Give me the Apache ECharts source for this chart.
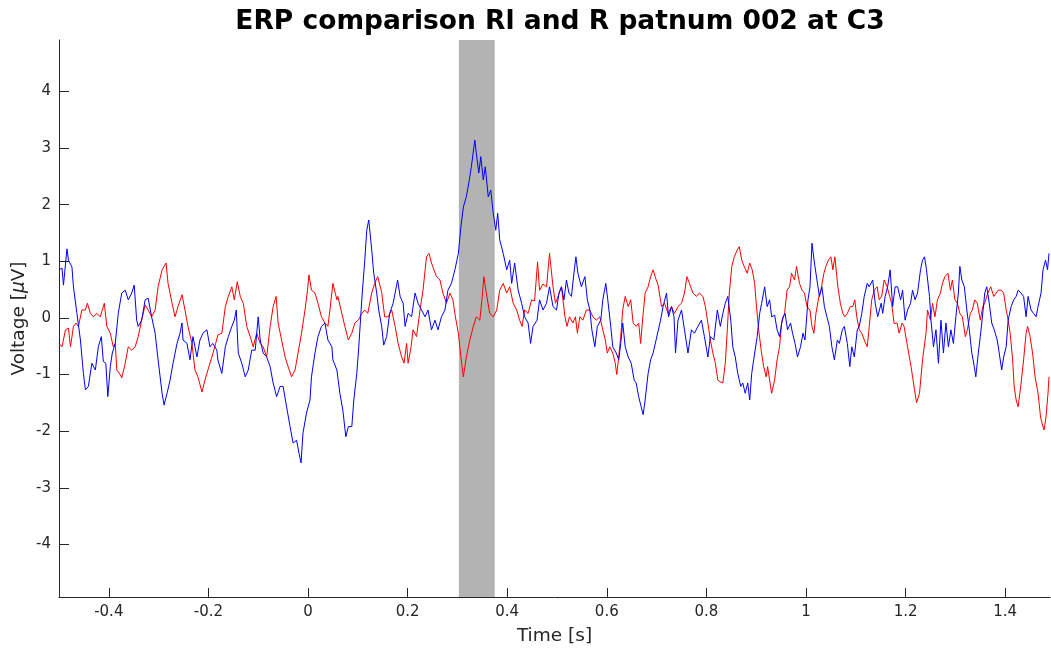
<!DOCTYPE html>
<html>
<head>
    <meta charset="utf-8">
    <title>ERP comparison</title>
    <script src="https://cdn.jsdelivr.net/npm/echarts@6/dist/echarts.min.js"></script>
    <style>
        html, body { margin: 0; padding: 0; background: #fff; }
        #main { width: 1051px; height: 650px; }
    </style>
</head>
<body>
<div id="main"></div>
<script type="text/javascript">

    // blue trace (R)
    var blueTime = [-0.5,-0.494,-0.491,-0.484,-0.481,-0.474,-0.471,-0.464,-0.457,-0.451,-0.447,-0.441,-0.434,-0.427,-0.421,-0.415,-0.411,-0.406,-0.402,-0.397,-0.393,-0.387,-0.381,-0.374,-0.367,-0.361,-0.354,-0.349,-0.344,-0.341,-0.334,-0.327,-0.321,-0.314,-0.307,-0.301,-0.293,-0.289,-0.283,-0.277,-0.271,-0.263,-0.257,-0.253,-0.251,-0.243,-0.237,-0.231,-0.223,-0.217,-0.211,-0.203,-0.197,-0.191,-0.183,-0.181,-0.173,-0.166,-0.160,-0.153,-0.148,-0.144,-0.140,-0.133,-0.126,-0.120,-0.113,-0.106,-0.100,-0.096,-0.090,-0.083,-0.076,-0.070,-0.063,-0.056,-0.050,-0.043,-0.036,-0.030,-0.023,-0.018,-0.014,-0.010,-0.003,0.004,0.007,0.014,0.020,0.027,0.034,0.040,0.048,0.050,0.058,0.064,0.070,0.076,0.081,0.088,0.092,0.098,0.102,0.108,0.114,0.118,0.122,0.128,0.132,0.138,0.142,0.148,0.152,0.158,0.164,0.171,0.180,0.185,0.191,0.195,0.201,0.208,0.215,0.221,0.228,0.235,0.241,0.248,0.255,0.261,0.268,0.275,0.281,0.288,0.295,0.302,0.307,0.312,0.318,0.324,0.328,0.335,0.338,0.343,0.347,0.352,0.356,0.362,0.367,0.372,0.377,0.381,0.385,0.392,0.399,0.405,0.409,0.415,0.422,0.429,0.435,0.442,0.447,0.452,0.460,0.465,0.472,0.479,0.485,0.492,0.499,0.504,0.509,0.514,0.519,0.524,0.529,0.534,0.538,0.542,0.549,0.556,0.561,0.566,0.570,0.576,0.581,0.588,0.592,0.598,0.602,0.608,0.612,0.619,0.624,0.628,0.632,0.637,0.643,0.649,0.655,0.659,0.664,0.669,0.673,0.677,0.683,0.688,0.693,0.699,0.708,0.713,0.720,0.724,0.730,0.735,0.738,0.743,0.750,0.756,0.763,0.770,0.776,0.783,0.790,0.796,0.803,0.808,0.815,0.822,0.828,0.833,0.838,0.843,0.849,0.853,0.858,0.863,0.869,0.873,0.878,0.883,0.887,0.891,0.897,0.902,0.907,0.911,0.917,0.922,0.927,0.931,0.937,0.942,0.947,0.953,0.958,0.963,0.969,0.973,0.978,0.983,0.989,0.994,0.998,1.004,1.008,1.012,1.017,1.022,1.027,1.032,1.037,1.042,1.047,1.052,1.057,1.063,1.067,1.073,1.077,1.083,1.088,1.092,1.097,1.103,1.107,1.112,1.117,1.123,1.127,1.134,1.139,1.144,1.151,1.154,1.159,1.164,1.169,1.174,1.179,1.184,1.190,1.194,1.199,1.204,1.210,1.214,1.219,1.224,1.230,1.234,1.238,1.242,1.248,1.251,1.256,1.261,1.266,1.271,1.276,1.281,1.286,1.291,1.296,1.301,1.306,1.309,1.313,1.318,1.323,1.328,1.333,1.338,1.341,1.346,1.350,1.355,1.359,1.363,1.368,1.373,1.378,1.384,1.388,1.393,1.397,1.402,1.406,1.412,1.417,1.422,1.426,1.432,1.437,1.442,1.446,1.452,1.457,1.462,1.466,1.472,1.476,1.481,1.485,1.488];
    var blueVolt = [0.85,0.88,0.58,1.22,1.02,0.9,0.55,0.08,-0.39,-0.98,-1.27,-1.21,-0.8,-0.92,-0.51,-0.33,-0.77,-0.8,-1.39,-0.86,-0.62,-0.45,0.08,0.44,0.49,0.32,0.44,0.58,-0.04,-0.15,-0.04,0.32,0.35,0.02,-0.27,-0.74,-1.33,-1.54,-1.33,-1.1,-0.8,-0.45,-0.27,-0.09,-0.39,-0.45,-0.74,-0.33,-0.69,-0.39,-0.27,-0.21,-0.51,-0.45,-0.57,-0.74,-0.98,-0.51,-0.33,-0.15,-0.04,0.14,-0.62,-0.8,-1.04,-0.92,-0.57,-0.57,0.02,-0.39,-0.62,-0.69,-0.86,-1.15,-1.39,-1.21,-1.21,-1.57,-1.92,-2.21,-2.16,-2.39,-2.56,-2.03,-1.68,-1.45,-1.04,-0.62,-0.33,-0.15,-0.09,-0.39,-0.51,-0.74,-0.92,-1.33,-1.63,-2.1,-1.92,-1.92,-1.45,-0.98,-0.51,0.32,1.02,1.55,1.73,1.2,0.79,0.44,0.14,-0.15,-0.48,-0.33,0.08,0.26,0.67,0.38,0.26,-0.15,0.08,0.02,0.44,0.26,0.14,0.02,0.14,-0.21,-0.04,-0.21,0.02,0.14,0.49,0.61,0.85,1.14,1.61,1.96,2.14,2.44,2.67,3.14,2.91,2.56,2.85,2.44,2.67,2.14,2.26,1.85,1.55,1.85,1.38,1.14,0.85,1.02,0.61,0.97,0.49,0.26,0.02,-0.09,-0.45,-0.15,-0.04,0.32,0.14,0.26,0.55,0.2,0.14,0.44,0.55,0.32,0.67,0.44,0.38,0.79,1.08,0.79,0.55,0.73,0.32,0.14,-0.21,-0.51,-0.15,-0.04,0.32,0.61,0.32,-0.15,-0.51,-0.62,-0.74,-0.45,-0.09,-0.51,-0.69,-0.8,-1.1,-1.15,-1.39,-1.57,-1.71,-1.45,-0.98,-0.74,-0.62,-0.39,-0.04,0.2,0.44,0.02,0.2,0.02,-0.62,-0.04,0.14,-0.21,-0.62,-0.21,-0.27,-0.15,-0.04,-0.33,-0.69,-0.33,-0.39,0.14,-0.15,0.08,0.26,0.38,-0.04,-0.51,-0.69,-0.98,-1.21,-1.15,-1.33,-1.15,-1.45,-0.98,-0.62,-0.33,0.08,0.26,0.55,0.2,0.32,0.02,0.05,-0.21,-0.33,0.0,0.08,-0.21,-0.09,-0.27,-0.45,-0.69,-0.51,-0.27,-0.39,0.32,0.55,1.32,0.97,0.67,0.38,0.55,0.2,0.02,-0.15,-0.51,-0.74,-0.39,-0.45,-0.21,-0.15,-0.45,-0.86,-0.51,-0.69,-0.21,-0.15,0.08,0.38,0.61,0.55,0.67,0.26,0.02,0.26,0.08,0.38,0.55,0.85,0.2,0.55,0.55,0.32,0.49,-0.04,0.14,0.26,0.49,0.32,0.44,0.85,1.02,1.08,0.85,0.38,-0.04,-0.51,-0.21,-0.8,-0.04,-0.62,-0.09,-0.51,-0.21,-0.45,0.02,0.44,0.91,0.67,0.55,0.14,-0.21,-0.62,-0.86,-1.04,-0.62,-0.33,0.08,0.44,0.55,0.26,-0.09,-0.21,-0.39,-0.62,-0.92,-0.69,-0.51,-0.04,0.2,0.32,0.38,0.49,0.44,0.38,0.02,0.38,0.14,0.08,0.02,0.2,0.44,0.85,1.02,0.85,1.14];

    // red trace (Rl)
    var redTime = [-0.5,-0.494,-0.487,-0.481,-0.477,-0.471,-0.466,-0.461,-0.454,-0.447,-0.443,-0.437,-0.431,-0.424,-0.417,-0.409,-0.404,-0.397,-0.391,-0.387,-0.384,-0.377,-0.374,-0.367,-0.361,-0.354,-0.347,-0.341,-0.334,-0.327,-0.321,-0.314,-0.307,-0.301,-0.293,-0.285,-0.281,-0.273,-0.267,-0.261,-0.253,-0.247,-0.241,-0.233,-0.227,-0.221,-0.213,-0.207,-0.201,-0.193,-0.187,-0.181,-0.173,-0.166,-0.160,-0.153,-0.148,-0.142,-0.136,-0.130,-0.123,-0.116,-0.110,-0.103,-0.096,-0.090,-0.083,-0.076,-0.070,-0.064,-0.060,-0.053,-0.046,-0.040,-0.033,-0.026,-0.020,-0.013,-0.006,-0.001,0.002,0.007,0.014,0.020,0.027,0.034,0.040,0.044,0.050,0.058,0.060,0.068,0.074,0.081,0.088,0.094,0.101,0.108,0.114,0.120,0.128,0.134,0.140,0.148,0.154,0.161,0.168,0.175,0.181,0.188,0.193,0.198,0.201,0.207,0.211,0.218,0.225,0.231,0.238,0.243,0.248,0.253,0.258,0.265,0.271,0.278,0.285,0.291,0.296,0.302,0.307,0.312,0.318,0.325,0.332,0.338,0.345,0.350,0.353,0.358,0.365,0.372,0.379,0.385,0.392,0.399,0.405,0.412,0.419,0.425,0.430,0.435,0.442,0.449,0.455,0.461,0.465,0.472,0.479,0.485,0.492,0.497,0.502,0.509,0.516,0.520,0.525,0.532,0.537,0.541,0.546,0.552,0.559,0.566,0.572,0.579,0.586,0.592,0.597,0.601,0.606,0.612,0.617,0.620,0.624,0.628,0.632,0.637,0.643,0.648,0.653,0.659,0.664,0.668,0.673,0.677,0.683,0.688,0.693,0.697,0.703,0.710,0.716,0.723,0.730,0.736,0.743,0.750,0.756,0.761,0.766,0.773,0.780,0.786,0.793,0.798,0.803,0.808,0.813,0.818,0.823,0.828,0.833,0.838,0.842,0.846,0.851,0.856,0.862,0.866,0.871,0.876,0.882,0.887,0.892,0.897,0.900,0.905,0.910,0.915,0.920,0.923,0.927,0.931,0.937,0.942,0.947,0.951,0.957,0.962,0.967,0.971,0.977,0.981,0.987,0.992,0.997,1.002,1.008,1.012,1.016,1.020,1.026,1.030,1.036,1.040,1.045,1.050,1.054,1.058,1.064,1.069,1.074,1.078,1.083,1.089,1.094,1.098,1.102,1.107,1.112,1.117,1.123,1.127,1.132,1.137,1.143,1.147,1.152,1.157,1.163,1.168,1.172,1.177,1.183,1.187,1.193,1.197,1.204,1.211,1.218,1.222,1.228,1.234,1.241,1.244,1.250,1.254,1.259,1.264,1.270,1.274,1.279,1.285,1.290,1.294,1.299,1.304,1.309,1.314,1.320,1.324,1.330,1.334,1.339,1.344,1.350,1.355,1.359,1.365,1.371,1.377,1.381,1.386,1.392,1.397,1.402,1.406,1.410,1.415,1.418,1.422,1.426,1.432,1.437,1.442,1.445,1.450,1.455,1.460,1.466,1.471,1.474,1.478,1.482,1.486,1.488];
    var redVolt = [-0.45,-0.51,-0.21,-0.18,-0.51,-0.15,-0.09,-0.15,0.14,0.14,0.26,0.08,0.02,0.08,0.02,0.26,-0.15,-0.27,-0.51,-0.45,-0.92,-1.0,-1.06,-0.8,-0.51,-0.57,-0.51,-0.33,-0.04,0.23,0.14,0.02,0.14,0.55,0.85,0.97,0.61,0.26,0.02,0.2,0.41,0.14,-0.15,-0.45,-0.92,-1.04,-1.31,-1.1,-0.92,-0.69,-0.51,-0.3,-0.27,0.2,0.38,0.55,0.32,0.64,0.38,0.26,-0.15,-0.33,-0.51,-0.27,-0.45,-0.51,-0.69,-0.15,0.2,0.38,-0.09,-0.39,-0.69,-0.86,-1.04,-0.92,-0.62,-0.27,0.14,0.49,0.76,0.49,0.44,0.26,0.02,-0.09,-0.15,0.14,0.61,0.32,0.38,0.08,-0.15,-0.39,-0.27,-0.09,-0.04,0.08,0.14,0.08,0.44,0.61,0.73,0.45,0.02,0.02,0.14,-0.15,-0.45,-0.69,-0.8,-0.45,-0.8,-0.51,-0.21,-0.33,0.14,0.49,1.08,1.14,0.97,0.85,0.73,0.67,0.44,0.26,0.44,0.32,0.02,-0.27,-0.69,-1.04,-0.69,-0.39,-0.15,0.02,-0.04,0.38,0.73,0.44,0.08,0.02,0.14,0.49,0.61,0.44,0.55,0.26,0.14,-0.04,-0.15,0.14,0.08,0.32,0.3,0.99,0.49,0.6,0.55,1.14,0.55,0.26,0.38,0.55,0.02,-0.15,0.02,-0.09,0.02,-0.27,0.02,-0.04,0.14,0.14,0.02,-0.04,0.02,-0.21,-0.39,-0.62,-0.51,-0.62,-0.8,-1.0,-0.69,-0.33,0.14,0.38,0.2,0.32,-0.09,-0.15,-0.09,-0.45,0.08,0.44,0.55,0.73,0.85,0.73,0.58,0.2,0.26,0.08,0.2,0.08,0.2,0.26,0.44,0.73,0.61,0.44,0.38,0.44,0.38,0.2,-0.09,-0.39,-0.62,-0.8,-1.1,-1.13,-1.15,-0.8,-0.21,0.44,0.91,1.08,1.2,1.26,1.02,0.91,0.79,0.97,0.85,0.61,0.26,-0.21,-0.57,-0.86,-1.04,-0.86,-1.1,-1.33,-1.1,-0.74,-0.5,-0.09,0.08,0.49,0.55,0.79,0.67,0.91,0.61,0.49,0.44,0.2,0.14,-0.15,-0.27,0.08,0.38,0.49,0.79,0.91,1.02,1.08,0.85,1.08,0.55,0.26,0.08,0.02,0.08,0.2,0.2,0.32,0.02,-0.21,-0.27,-0.39,-0.51,-0.15,0.32,0.49,0.55,0.32,0.38,0.67,0.55,0.38,0.26,-0.1,-0.09,-0.27,-0.09,-0.15,-0.51,-0.86,-1.27,-1.5,-1.33,-0.74,-0.27,0.14,-0.04,0.26,0.02,0.32,0.44,0.61,0.73,0.79,0.49,0.67,0.32,0.26,0.08,0.02,-0.33,-0.21,0.08,0.14,0.32,0.26,-0.04,0.2,0.26,0.44,0.55,0.38,0.38,0.49,0.49,0.44,0.14,-0.04,-0.27,-0.74,-1.21,-1.45,-1.57,-1.15,-0.74,-0.27,-0.15,-0.33,-0.62,-1.04,-1.33,-1.75,-1.86,-1.98,-1.75,-1.33,-1.04];

    // highlighted window [s]
    var bandStart = 0.303;
    var bandEnd = 0.375;

    var xTicks = [-0.4, -0.2, 0, 0.2, 0.4, 0.6, 0.8, 1, 1.2, 1.4];
    var yTicks = [-4, -3, -2, -1, 0, 1, 2, 3, 4];

    function pairs(t, v) {
        var out = [];
        for (var i = 0; i < t.length; i++) out.push([t[i], v[i]]);
        return out;
    }

    var axisColor = '#262626';
    var font = 'DejaVu Sans';

    var chart = echarts.init(document.getElementById('main'), null, {renderer: 'canvas'});

    chart.setOption({
        animation: false,
        backgroundColor: '#ffffff',
        title: {
            text: 'ERP comparison Rl and R patnum 002 at C3',
            left: 555,
            top: 4,
            textAlign: 'center',
            textStyle: {fontFamily: font, fontWeight: 'bold', fontSize: 26.5, color: '#000'}
        },
        grid: {left: 59, right: 1, top: 40, bottom: 53, containLabel: false, outerBoundsMode: 'none'},
        xAxis: {
            type: 'value',
            min: -0.5,
            max: 1.49,
            name: 'Time [s]',
            nameLocation: 'middle',
            nameGap: 30,
            nameMoveOverlap: false,
            nameTextStyle: {fontFamily: font, fontSize: 18.5, color: axisColor},
            axisLine: {onZero: false, lineStyle: {color: axisColor, width: 1}},
            axisTick: {inside: true, length: 9, customValues: xTicks, lineStyle: {color: axisColor}},
            axisLabel: {
                customValues: xTicks,
                margin: 8,
                fontFamily: font, fontSize: 15, color: axisColor,
                formatter: function (v) { return String(Math.round(v * 10) / 10); }
            },
            splitLine: {show: false}
        },
        yAxis: {
            type: 'value',
            min: -4.93,
            max: 4.91,
            name: '{a|Voltage [}{b|μ}{a|V]}',
            nameLocation: 'middle',
            nameGap: 30,
            nameMoveOverlap: false,
            nameTextStyle: {
                rich: {
                    a: {fontFamily: font, fontSize: 18.5, color: axisColor},
                    b: {fontFamily: font, fontSize: 18.5, color: axisColor, fontStyle: 'italic'}
                }
            },
            axisLine: {onZero: false, lineStyle: {color: axisColor, width: 1}},
            axisTick: {inside: true, length: 10, customValues: yTicks, lineStyle: {color: axisColor}},
            axisLabel: {
                customValues: yTicks,
                margin: 8,
                fontFamily: font, fontSize: 15, color: axisColor
            },
            splitLine: {show: false}
        },
        series: [
            {
                name: 'window',
                type: 'line',
                data: [],
                z: 1,
                silent: true,
                markArea: {
                    silent: true,
                    itemStyle: {color: '#b3b3b3', opacity: 1},
                    data: [[{xAxis: bandStart}, {xAxis: bandEnd}]]
                }
            },
            {
                name: 'Rl',
                type: 'line',
                z: 3,
                data: pairs(redTime, redVolt),
                showSymbol: false,
                lineStyle: {color: '#ff0000', width: 1},
                itemStyle: {color: '#ff0000'}
            },
            {
                name: 'R',
                type: 'line',
                z: 4,
                data: pairs(blueTime, blueVolt),
                showSymbol: false,
                lineStyle: {color: '#0000ff', width: 1},
                itemStyle: {color: '#0000ff'}
            }
        ]
    });
</script>
</body>
</html>
